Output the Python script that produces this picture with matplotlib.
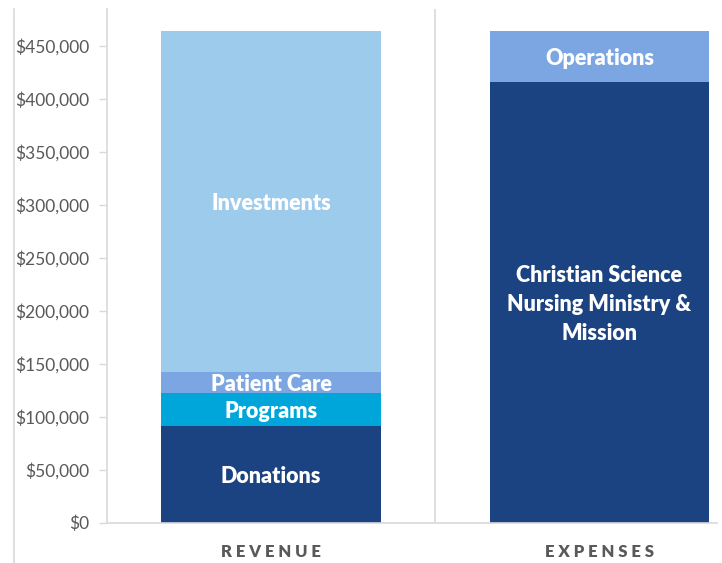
import numpy as np
import matplotlib.pyplot as plt
from matplotlib.ticker import FuncFormatter
from matplotlib.lines import Line2D

# categories and stacked segments (bottom to top)
categories = ["REVENUE", "EXPENSES"]
segment_names = ["Donations", "Programs", "Patient Care", "Investments",
                 "Christian Science\nNursing Ministry &\nMission", "Operations"]
revenue_values = [91300, 31100, 19800, 321900, 0, 0]
expense_values = [0, 0, 0, 0, 416000, 48200]
segment_colors = ["#1B4281", "#00A6D9", "#7BA6E2", "#9DCBEC", "#1B4281", "#7BA6E2"]

plt.rcParams['font.family'] = ['Lato', 'DejaVu Sans']

fig = plt.figure(figsize=(7.22, 5.63), dpi=100)
ax = fig.add_axes([107 / 722, 1 - 522.7 / 563, (717 - 107) / 722, (522.7 - 9) / 563])

x = np.arange(len(categories))
bottoms = np.zeros(len(categories))
for name, rv, ev, col in zip(segment_names, revenue_values, expense_values, segment_colors):
    vals = np.array([rv, ev], dtype=float)
    ax.bar(x, vals, bottom=bottoms, width=0.668, color=col, linewidth=0)
    for xi, v, b in zip(x, vals, bottoms):
        if v > 0:
            ax.annotate(name, (xi, b + v / 2), xytext=(0, -1.5), textcoords='offset points',
                        ha='center', va='center', color='white',
                        fontsize=15.5, fontweight='heavy', linespacing=1.45)
    bottoms += vals

ax.set_xlim(-0.5, 1.358)
ax.set_ylim(0, 485000)
ax.set_yticks(np.arange(0, 450001, 50000))
ax.yaxis.set_major_formatter(FuncFormatter(lambda v, p: f"${v:,.0f}"))
ax.tick_params(axis='y', colors='#D9D9D9', labelcolor='#595959', labelsize=12.5,
               length=6, width=1, pad=6.5)
ax.set_xticks(x)
ax.set_xticklabels([" ".join(c) for c in categories], fontsize=12, fontweight='heavy',
                   color='#595959')
ax.tick_params(axis='x', length=0, pad=15.5)

for s in ['top', 'right']:
    ax.spines[s].set_visible(False)
for s in ['left', 'bottom']:
    ax.spines[s].set_color('#D9D9D9')
    ax.spines[s].set_linewidth(1.2)

# category divider
ax.axvline(0.5, color='#D9D9D9', linewidth=1.2)

# outer border line on the left
fig.add_artist(Line2D([14 / 722, 14 / 722], [0, 1 - 9 / 563], color='#D9D9D9',
                      linewidth=1.2, transform=fig.transFigure))

fig.savefig("out.png", dpi=100)
